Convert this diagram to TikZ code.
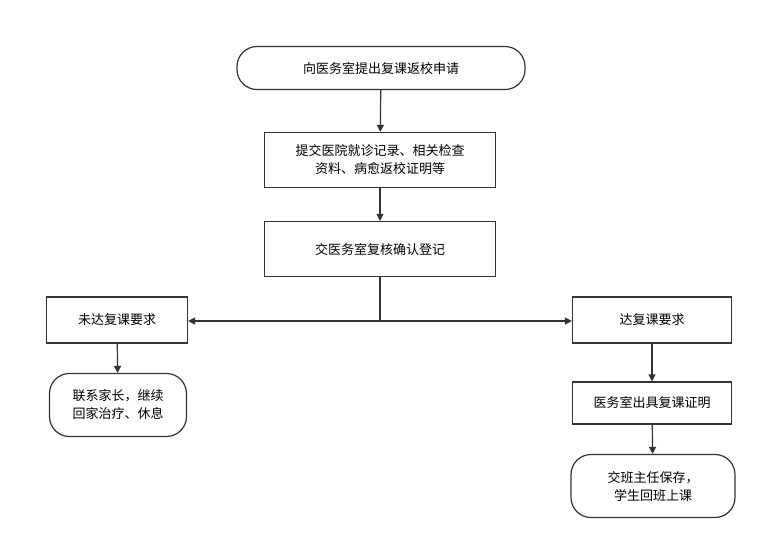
\documentclass[tikz,border=0pt]{standalone}
\usepackage{fontspec}
\setmainfont{Noto Sans CJK SC}
\usetikzlibrary{arrows.meta}
\begin{document}
\begin{tikzpicture}[x=1pt,y=-1pt,
  box/.style={draw=black!80,line width=1.2pt,fill=white,align=center,inner sep=0pt,font=\fontsize{13}{18}\selectfont},
  rbox/.style={box,rounded corners=20pt},
  arr/.style={draw=black!80,line width=1.2pt,-{Triangle[length=7pt,width=7pt]}}]
\useasboundingbox (0,0) rectangle (767,550);
\node[rbox,minimum width=288pt,minimum height=43pt] (a) at (381,68) {向医务室提出复课返校申请};
\node[box,minimum width=231pt,minimum height=55pt] (b) at (380,160) {提交医院就诊记录、相关检查\\资料、病愈返校证明等};
\node[box,minimum width=231pt,minimum height=55pt] (c) at (380,249) {交医务室复核确认登记};
\node[box,minimum width=141pt,minimum height=46pt] (l) at (117,320) {未达复课要求};
\node[box,minimum width=159pt,minimum height=46pt] (r) at (652,320) {达复课要求};
\node[rbox,minimum width=137pt,minimum height=63pt] (l2) at (118,405) {联系家长，继续\\回家治疗、休息};
\node[box,minimum width=159pt,minimum height=42pt] (r2) at (652,403) {医务室出具复课证明};
\node[rbox,minimum width=164pt,minimum height=63pt] (r3) at (653,486) {交班主任保存，\\学生回班上课};
\coordinate (m) at (380,321);
\draw[arr] (a) -- (b);
\draw[arr] (b) -- (c);
\draw[arr] (c.south) -- (m) -- (l.east |- m);
\draw[arr] (m) -- (r.west |- m);
\draw[arr] (l) -- (l2);
\draw[arr] (r) -- (r2);
\draw[arr] (r2) -- (r3);
\end{tikzpicture}
\end{document}
